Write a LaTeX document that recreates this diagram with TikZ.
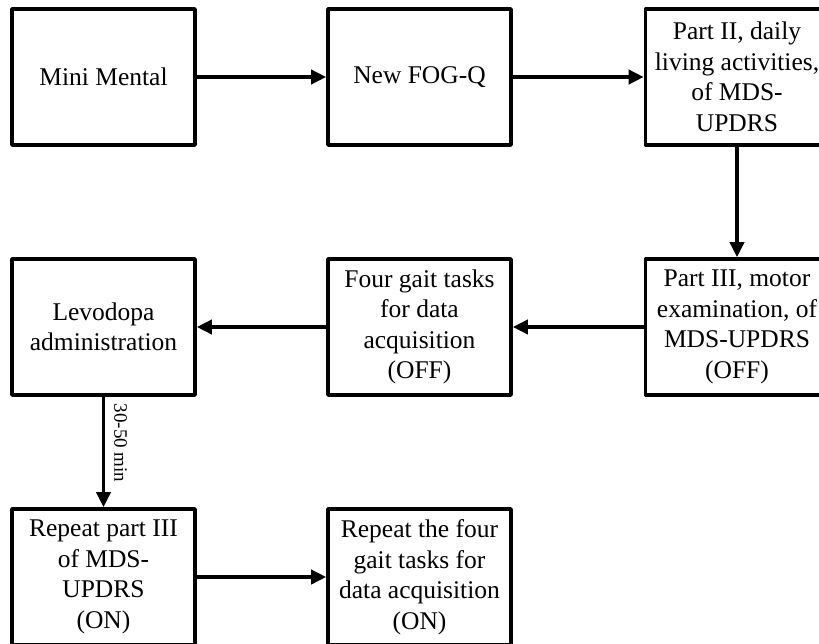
\documentclass[tikz,border=0pt]{standalone}
\usepackage{fontspec}
\setmainfont{Liberation Serif}
\usetikzlibrary{arrows.meta}

\tikzset{
  stepbox/.style={draw=black, line width=3.6pt, line join=round, fill=white,
    minimum width=183pt, minimum height=136pt, inner sep=0pt,
    align=center, font=\fontsize{25.5pt}{30.5pt}\selectfont},
  flow/.style={line width=3.6pt, -{Triangle[length=15pt,width=14pt]}},
  note/.style={font=\fontsize{19pt}{22pt}\selectfont, inner sep=0pt}
}

\begin{document}
\begin{tikzpicture}[x=1pt, y=-1pt]
  \useasboundingbox (0,0) rectangle (819,643);
  \clip (0,0) rectangle (819,643);

  % first row
  \node[stepbox] (mmse)  at (103.5,77) {Mini Mental};
  \node[stepbox] (fogq)  at (419.5,77) {New FOG-Q};
  \node[stepbox] (part2) at (737,77)   {Part II, daily\\living activities,\\of MDS-\\UPDRS};

  % second row
  \node[stepbox] (part3) at (737,327)   {Part III, motor\\examination, of\\MDS-UPDRS\\(OFF)};
  \node[stepbox] (gaitoff) at (419.5,327) {Four gait tasks\\for data\\acquisition\\(OFF)};
  \node[stepbox] (levo)  at (103.5,327) {Levodopa\\administration};

  % third row
  \node[stepbox] (part3on) at (103.5,577) {Repeat part III\\of MDS-\\UPDRS\\(ON)};
  \node[stepbox] (gaiton)  at (419.5,577) {Repeat the four\\gait tasks for\\data acquisition\\(ON)};

  % connectors
  \draw[flow] (mmse) -- (fogq);
  \draw[flow] (fogq) -- (part2);
  \draw[flow] (part2) -- (part3);
  \draw[flow] (part3) -- (gaitoff);
  \draw[flow] (gaitoff) -- (levo);
  \draw[flow] (levo) -- (part3on)
    node[note, pos=0.42, right=9pt, rotate=-90, anchor=south] {30-50 min};
  \draw[flow] (part3on) -- (gaiton);
\end{tikzpicture}
\end{document}
